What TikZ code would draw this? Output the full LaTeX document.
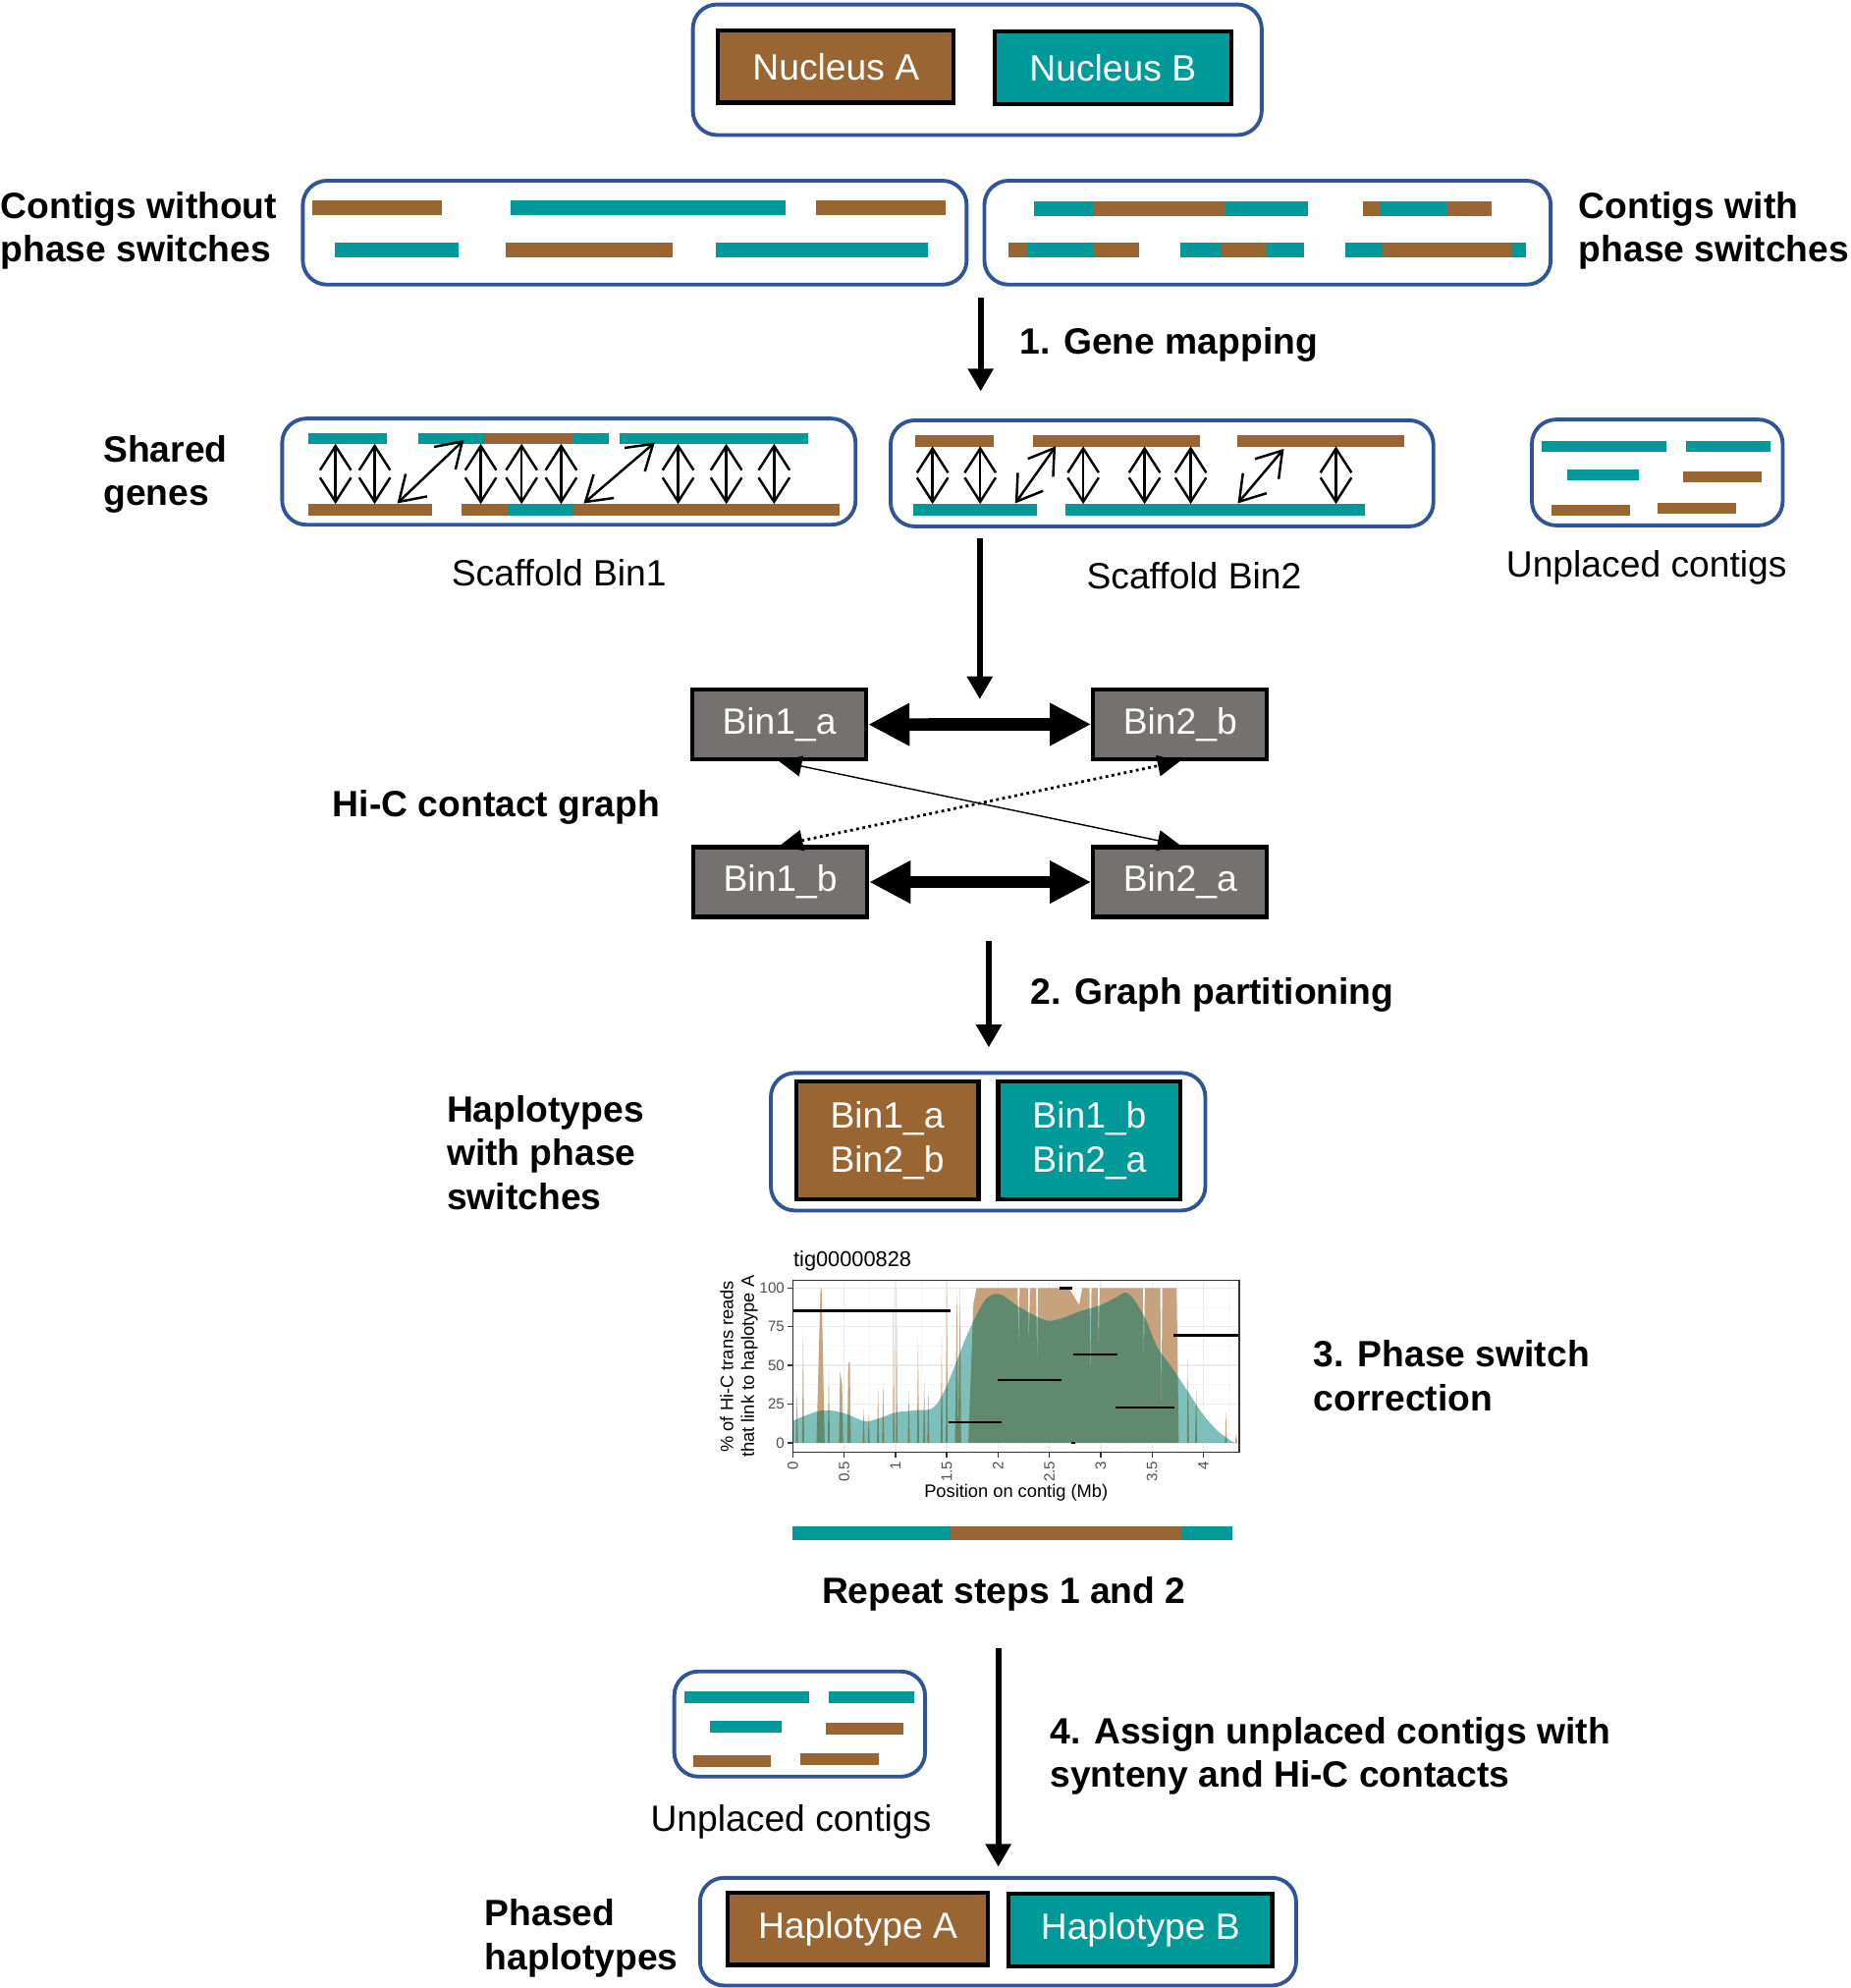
\documentclass[tikz,border=0pt]{standalone}
\usepackage{fontspec}
\setmainfont{Liberation Sans}
\usetikzlibrary{arrows.meta}
\tikzset{>=latex}

\definecolor{hapA}{HTML}{996633}
\definecolor{hapB}{HTML}{009999}
\definecolor{frameblue}{HTML}{2F5597}
\definecolor{bingray}{HTML}{767171}
\definecolor{plotbrown}{HTML}{C7A27C}
\definecolor{plotteal}{HTML}{7DBFBB}
\definecolor{plotgreen}{HTML}{5F8A6F}
\definecolor{axisgray}{HTML}{4D4D4D}

\newcommand{\dpx}{0.3671pt}

% hi-c signal of the contig, in Mb and percent
\newcommand{\brownpath}{(0,0) -- plot coordinates {(0.03,0)(0.04,33)(0.05,0)
  (0.09,0)(0.1,73)(0.11,0)(0.23,0)(0.27,100)(0.28,100)(0.31,0)
  (0.34,0)(0.35,48)(0.36,0)(0.45,0)(0.46,46)(0.48,38)(0.49,0)
  (0.53,0)(0.54,51)(0.555,53)(0.565,0)(0.68,0)(0.69,22)(0.70,0)
  (0.73,0)(0.74,18)(0.75,0)(0.82,0)(0.83,37)(0.84,0)(0.87,0)(0.88,39)(0.89,0)
  (0.975,0)(0.98,100)(0.99,0)(1.005,0)(1.01,100)(1.02,0)
  (1.12,0)(1.13,33)(1.14,0)(1.21,0)(1.22,69)(1.23,0)(1.27,0)(1.28,41)(1.29,0)
  (1.31,0)(1.32,34)(1.33,0)(1.44,0)(1.45,69)(1.46,0)(1.49,0)(1.5,100)(1.51,0)
  (1.58,0)(1.6,100)(1.61,0)(1.63,100)(1.64,0)(1.71,0)(1.76,90)(1.79,100)
  (2.19,100)(2.2,60)(2.21,100)(2.29,100)(2.3,62)(2.31,100)(2.37,100)(2.38,48)(2.39,100)
  (2.69,100)(2.79,89)(2.82,100)(2.89,100)(2.9,35)(2.91,100)(2.97,100)(2.98,60)(2.99,100)
  (3.41,100)(3.42,52)(3.43,100)(3.58,100)(3.59,16)(3.6,100)(3.74,100)(3.76,0)
  (3.84,0)(3.85,56)(3.86,0)(3.92,0)(3.93,37)(3.94,0)(4.21,0)(4.22,20)(4.23,0)
  (4.31,0)(4.32,6)(4.33,0)(4.35,0)} -- cycle}
\newcommand{\tealpath}{(0,0) -- plot[smooth, tension=0.6] coordinates {(0,14)(0.1,17)
  (0.3,21)(0.5,19)(0.7,14)(0.85,16)(1.0,19.5)(1.2,21)(1.35,22)(1.45,30)(1.55,45)
  (1.7,70)(1.85,90)(1.95,96)(2.05,95)(2.2,88)(2.45,79.5)(2.6,80)(2.8,85)(3.0,89)
  (3.15,94)(3.25,97)(3.35,90)(3.45,78)(3.55,62)(3.7,48)(3.85,33)(4.0,18)(4.15,7)
  (4.3,0)} -- cycle}

\tikzset{
  frame/.style={draw=frameblue, line width=1.1pt, rounded corners=7pt, inner sep=0pt},
  sz/.style 2 args={minimum width=#1*\dpx, minimum height=#2*\dpx},
  hbox/.style={draw=black, line width=1.2pt, text=white, inner sep=0pt, align=left,
    font=\fontsize{10.6}{12.7}\selectfont},
  binbox/.style={hbox, fill=bingray, sz={137}{55}},
  lbl/.style={font=\bfseries\fontsize{10.6}{12.7}\selectfont, align=left, inner sep=0pt},
  caption/.style={font=\fontsize{10.6}{12.7}\selectfont, inner sep=0pt},
  bar/.style={line width=3.3pt},
  thickbar/.style={line width=4.3pt},
  stepline/.style={-{Triangle[length=6.6pt,width=7.1pt]}, line width=1.7pt},
  gene/.style={{Straight Barb[length=7pt,width=9pt]}-{Straight Barb[length=7pt,width=9pt]}, line width=0.7pt},
  hic/.style={{Triangle[length=12pt,width=11.6pt]}-{Triangle[length=12pt,width=11.6pt]}, line width=3.6pt},
  weak/.style={{Triangle[length=6.5pt,width=6pt]}-{Triangle[length=6.5pt,width=6pt]}, line width=0.4pt},
  gridmajor/.style={draw=black!8, line width=0.4pt},
  gridminor/.style={draw=black!4, line width=0.25pt},
  ticklbl/.style={text=axisgray, inner sep=0pt, font=\fontsize{4.3}{5}\selectfont},
  axislbl/.style={inner sep=0pt, align=center, font=\fontsize{5.2}{6.1}\selectfont},
}

\begin{document}
\begin{tikzpicture}[x=0.012904cm, y=-0.012904cm]
    \useasboundingbox (0,0) rectangle (1460,1568);

    % nuclei
    \node[frame, sz={449}{103}] (nucframe) at (771,55) {};
    \node[hbox, fill=hapA, sz={186}{57}] (nucA) at (659.5,52.5) {Nucleus A};
    \node[hbox, fill=hapB, sz={187}{57}] (nucB) at (878,53.5) {Nucleus B};

    % assembled contigs
    \node[frame, sz={524}{82}] (noswitch) at (500.75,183.5) {};
    \node[frame, sz={447}{82}] (switch) at (1000,183.5) {};
    \node[lbl, anchor=west] (nophaselbl) at (0,182) {Contigs without\\phase switches};
    \node[lbl, anchor=west] (phaselbl) at (1245,182) {Contigs with\\phase switches};

    \foreach \xa/\xb/\yy/\cc in {246/349/164/hapA, 403/620/164/hapB, 644/746/164/hapA,
        264.5/362/197/hapB, 398.6/531/197/hapA, 565/732/197/hapB,
        816/862/164.5/hapB, 862/966/164.5/hapA, 966/1032/164.5/hapB,
        1075/1089/164.5/hapA, 1089/1141/164.5/hapB, 1141/1177/164.5/hapA,
        796/810/197/hapA, 810/862/197/hapB, 862/899/197/hapA,
        931/964/197/hapB, 964/999/197/hapA, 999/1029/197/hapB,
        1061/1090/197/hapB, 1090/1192/197/hapA, 1192/1204/197/hapB}
    \draw[thickbar, \cc] (\xa,\yy) -- (\xb,\yy);

    % step 1
    \coordinate (s1a) at (773.7,234.6);
    \coordinate (s1b) at (773.7,308.7);
    \draw[stepline] (s1a) -- (s1b);
    \node[lbl, anchor=west] (s1lbl) at (803.9,272) {1. Gene mapping};

    % scaffold bins
    \node[lbl, anchor=west] (sharedlbl) at (81,374) {Shared\\genes};
    \node[frame, sz={452.6}{83.8}] (bin1) at (448.8,372) {};
    \node[frame, sz={428.5}{83.7}] (bin2) at (916.75,373.35) {};
    \node[frame, sz={198}{83.5}] (unpl1) at (1307.5,372.65) {};

    \foreach \xa/\xb/\yy/\cc in {243.5/305.5/346/hapB, 330.3/383/346/hapB, 383/452.3/346/hapA,
        452.3/480.5/346/hapB, 488.7/637.6/346/hapB,
        243/341/402/hapA, 364/401.3/402/hapA, 401.3/452.3/402/hapB, 452.3/662.1/402/hapA,
        721.7/784/348/hapA, 814.9/946.6/348/hapA, 975.9/1107.9/348/hapA,
        720.2/818.4/402/hapB, 840.7/1077/402/hapB,
        1216/1314.6/352/hapB, 1330.4/1397/352/hapB, 1236.3/1292.9/374.5/hapB,
        1328/1389.5/376/hapA, 1223.9/1285.7/402.3/hapA, 1307.6/1369.3/400.8/hapA}
    \draw[bar, \cc] (\xa,\yy) -- (\xb,\yy);

    \foreach \gx in {264.7,295.6,379.3,411.5,442.7,535,573,610.7}
    \draw[gene] (\gx,350) -- (\gx,397.5);
    \foreach \gx in {735.7,773.3,854.6,903,939.4,1054}
    \draw[gene] (\gx,352) -- (\gx,397.5);
    \draw[gene] (313.4,397) -- (366,347);
    \draw[gene] (460.5,397) -- (516.6,349);
    \draw[gene] (800.9,397) -- (832.9,352);
    \draw[gene] (976.5,397) -- (1012.9,354);

    \node[caption] (bin1lbl) at (441,452) {Scaffold Bin1};
    \node[caption] (bin2lbl) at (942,454) {Scaffold Bin2};
    \node[caption] (unpl1lbl) at (1299,448) {Unplaced contigs};

    \coordinate (s1c) at (773,424.7);
    \coordinate (s1d) at (773,551.5);
    \draw[stepline] (s1c) -- (s1d);

    % hi-c graph
    \node[binbox] (b1a) at (614.8,571.5) {Bin1\_a};
    \node[binbox] (b2b) at (931,571.2) {Bin2\_b};
    \node[binbox] (b1b) at (615.6,695.7) {Bin1\_b};
    \node[binbox] (b2a) at (931,695.7) {Bin2\_a};
    \draw[hic] (b1a) -- (b2b);
    \draw[hic] (b1b) -- (b2a);
    \draw[weak] (b1a.south) -- (b2a.north);
    \draw[weak, line width=0.8pt, densely dotted] (b1b.north) -- (b2b.south);
    \node[lbl, anchor=west] (graphlbl) at (262,637) {Hi-C contact graph};

    % step 2
    \coordinate (s2a) at (780.1,741.9);
    \coordinate (s2b) at (780.1,826.1);
    \draw[stepline] (s2a) -- (s2b);
    \node[lbl, anchor=west] (s2lbl) at (812.6,785) {2. Graph partitioning};

    \node[lbl, anchor=west] (hapslbl) at (352,909) {Haplotypes\\with phase\\switches};
    \node[frame, sz={343}{108.6}] (hapframe) at (779.55,900.5) {};
    \node[hbox, fill=hapA, sz={144}{93}] (hap1) at (700,899.35) {Bin1\_a\\Bin2\_b};
    \node[hbox, fill=hapB, sz={144}{93}] (hap2) at (859.5,899.5) {Bin1\_b\\Bin2\_a};

    % step 3: phase switch plot
    \coordinate (plotorigin) at (625.5,1137.9);
    \begin{scope}[shift={(plotorigin)}, x=1.0452cm, y=0.015743cm]
        \fill[white] (0,-6.3) rectangle (4.35,104.9);
        \begin{scope}
            \clip (0,-6.3) rectangle (4.35,104.9);
            \foreach \gx in {0.25,0.75,...,4.25}
            \draw[gridminor] (\gx,-6.3) -- (\gx,104.9);
            \foreach \gy in {12.5,37.5,62.5,87.5}
            \draw[gridminor] (0,\gy) -- (4.35,\gy);
            \foreach \gx in {0,0.5,...,4}
            \draw[gridmajor] (\gx,-6.3) -- (\gx,104.9);
            \foreach \gy in {0,25,...,100}
            \draw[gridmajor] (0,\gy) -- (4.35,\gy);
            \fill[plotteal] \tealpath;
            \fill[plotbrown] \brownpath;
            \begin{scope}
                \clip \brownpath;
                \fill[plotgreen] \tealpath;
            \end{scope}
            \foreach \xa/\xb/\yy in {0/1.54/85.2, 1.52/2.03/13.3, 2.0/2.62/40.5,
                2.6/2.72/100, 2.71/2.75/0, 2.73/3.16/57.2, 3.14/3.72/22.9, 3.71/4.35/69.3}
            \draw[line width=0.7pt] (\xa,\yy) -- (\xb,\yy);
        \end{scope}
        \draw[black!80, line width=0.4pt] (0,-6.3) rectangle (4.35,104.9);
        \foreach \t in {0,25,50,75,100} {
            \draw[black!80, line width=0.4pt] (-0.05,\t) -- (0,\t);
            \node[ticklbl, anchor=east] at (-0.075,\t) {\t};
        }
        \foreach \t in {0,0.5,1,1.5,2,2.5,3,3.5,4} {
            \draw[black!80, line width=0.4pt] (\t,-6.3) -- (\t,-9.6);
            \node[ticklbl, anchor=east, rotate=90] at (\t,-11.6) {\t};
        }
        \node[axislbl] (xtitle) at (2.175,-32.4) {Position on contig (Mb)};
        \node[axislbl, rotate=90] (ytitle) at (-0.525,49.3) {\% of Hi-C trans reads\\that link to haplotype A};
        \node[axislbl, anchor=west, font=\fontsize{6.2}{7}\selectfont] (ptitle) at (0,117.5) {tig00000828};
    \end{scope}

    \foreach \xa/\xb/\cc in {625.5/749.5/hapB, 749.5/931.6/hapA, 931.6/972.5/hapB}
    \draw[line width=4pt, \cc] (\xa,1209.2) -- (\xb,1209.2);

    \node[lbl, anchor=west] (s3lbl) at (1036,1085) {3. Phase switch\\correction};
    \node[lbl] (repeatlbl) at (792,1257) {Repeat steps 1 and 2};

    % step 4
    \coordinate (s4a) at (787.6,1300);
    \coordinate (s4b) at (787.6,1472.4);
    \draw[stepline] (s4a) -- (s4b);
    \node[lbl, anchor=west] (s4lbl) at (828,1385) {4. Assign unplaced contigs with\\synteny and Hi-C contacts};

    \node[frame, sz={198}{83}] (unpl2) at (630.9,1359.8) {};
    \foreach \xa/\xb/\yy/\cc in {539.6/638.2/1338.7/hapB, 653.8/720.9/1338.7/hapB,
        560/616.4/1361.9/hapB, 651.3/712.9/1363.4/hapA,
        546.8/608.4/1389/hapA, 631.3/693.2/1387.4/hapA}
    \draw[bar, \cc] (\xa,\yy) -- (\xb,\yy);
    \node[caption] (unpl2lbl) at (624,1437) {Unplaced contigs};

    % final haplotypes
    \node[lbl, anchor=west] (phasedlbl) at (382,1529) {Phased\\haplotypes};
    \node[frame, sz={470.6}{85}] (finalframe) at (787.4,1523.55) {};
    \node[hbox, fill=hapA, sz={206}{57}] (hapAbox) at (676.7,1521.25) {Haplotype A};
    \node[hbox, fill=hapB, sz={208}{57}] (hapBbox) at (899.7,1522.15) {Haplotype B};

\end{tikzpicture}
\end{document}
